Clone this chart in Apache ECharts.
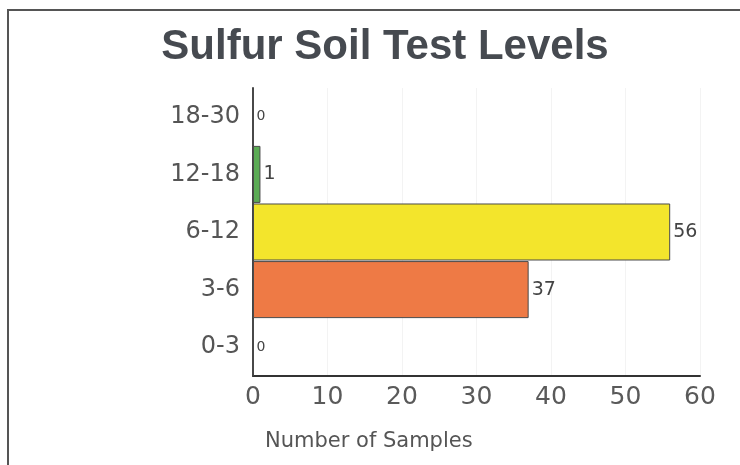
<!DOCTYPE html>
<html>
<head>
<meta charset="utf-8">
<script src="https://cdn.jsdelivr.net/npm/echarts@6/dist/echarts.min.js"></script>
<style>html,body{margin:0;padding:0;background:#fff;}#c{width:740px;height:465px;}</style>
</head>
<body>
<div id="c"></div>
<script>
var categories = ['0-3', '3-6', '6-12', '12-18', '18-30'];
var sampleCounts = [0, 37, 56, 1, 0];
var barColors = ['#ee7a45', '#ee7a45', '#f3e52c', '#5bab55', '#5bab55'];
var xTicks = [0, 10, 20, 30, 40, 50, 60];

var chart = echarts.init(document.getElementById('c'), null, {renderer: 'canvas'});
chart.setOption({
  backgroundColor: '#fff',
  animation: false,
  title: {
    text: 'Sulfur Soil Test Levels',
    left: 380, top: 21, textAlign: 'center',
    textStyle: {fontFamily: 'Liberation Sans', fontWeight: 'bold', fontSize: 42, color: '#464a50'}
  },
  graphic: [
    {type: 'rect', shape: {x: 8, y: 10, width: 760, height: 480}, style: {fill: 'none', stroke: '#555', lineWidth: 2}, silent: true},
    {type: 'text', left: 265, top: 431, style: {text: 'Number of Samples', font: '21px "DejaVu Sans"', fill: '#555'}}
  ],
  grid: {left: 253, right: 40, top: 88, bottom: 89},
  xAxis: {
    type: 'value', min: 0, max: 60, interval: 10,
    axisLine: {show: true, lineStyle: {color: '#333', width: 2}},
    axisTick: {show: false},
    axisLabel: {
      margin: 9, color: '#5a5a5a', fontSize: 25, fontFamily: 'DejaVu Sans',
      formatter: function (v) { return xTicks.indexOf(v) >= 0 ? String(v) : ''; }
    },
    splitLine: {show: true, lineStyle: {color: '#f3f3f3', width: 1}}
  },
  yAxis: {
    type: 'category', data: categories,
    axisLine: {show: true, lineStyle: {color: '#444', width: 2}},
    axisTick: {show: false},
    axisLabel: {margin: 13, color: '#555', fontSize: 24, fontFamily: 'DejaVu Sans'},
    splitLine: {show: false}
  },
  series: [{
    type: 'bar',
    data: sampleCounts.map(function (v, i) {
      var item = {value: v, itemStyle: {color: barColors[i]}};
      if (v === 0) { item.label = {fontSize: 14}; }
      return item;
    }),
    barCategoryGap: '1%',
    itemStyle: {borderColor: '#4a4a4a', borderWidth: 1},
    label: {
      show: true, position: 'right', distance: 3,
      color: '#444', fontSize: 19, fontFamily: 'DejaVu Sans'
    }
  }]
});
</script>
</body>
</html>
